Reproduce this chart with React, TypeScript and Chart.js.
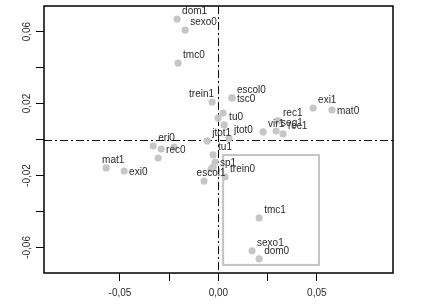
import React, { useEffect, useRef } from "react";
import { Chart, registerables } from "chart.js";

Chart.register(...registerables);

// ---- data ----
const LABELS = [
  "dom1", "sexo0", "tmc0", "trein1", "escol0", "tsc0", "", "", "tu0", "jtot1",
  "jtot0", "vir1", "rec1", "seg1", "rec1", "exi1", "mat0", "eri0", "rec0", "",
  "", "mat1", "exi0", "escol1", "tu1", "sp1", "", "", "trein0", "tmc1",
  "sexo1", "dom0",
];
const X_VALUES = [
  -0.021, -0.0169, -0.0205, -0.0032, 0.0069, 0.0069, 0.0024, -0.0002, 0.0029, -0.0057,
  0.0054, 0.0227, 0.0303, 0.0293, 0.0328, 0.0481, 0.0577, -0.0331, -0.0291, -0.0225,
  -0.0306, -0.057, -0.0479, -0.0073, -0.0027, -0.0017, -0.0027, -0.0037, 0.0034, 0.0207,
  0.0171, 0.0207,
];
const Y_VALUES = [
  0.0669, 0.0608, 0.0425, 0.0208, 0.0231, 0.0231, 0.0147, 0.0119, 0.0081, -0.0008,
  0.0008, 0.0042, 0.0103, 0.0047, 0.0031, 0.0175, 0.0164, -0.0036, -0.0053, -0.0042,
  -0.0103, -0.0158, -0.0175, -0.0231, -0.0086, -0.0125, -0.0153, -0.0164, -0.0208, -0.0436,
  -0.0619, -0.0664,
];
// where each label sits relative to its point
const LABEL_SIDES = [
  "tr", "tr", "tr", "tl", "tr", "r", "", "", "tr", "tr",
  "tr", "tr", "tr", "tr", "tr", "tr", "r", "tr", "r", "",
  "", "t", "r", "t", "tr", "r", "", "", "tr", "tr",
  "tr", "tr",
];

const X_TICKS = [-0.05, -0.025, 0, 0.025, 0.05];
const X_TICK_LABELS = ["-0,05", "", "0,00", "", "0,05"];
const Y_TICKS = [-0.06, -0.04, -0.02, 0, 0.02, 0.04, 0.06];
const Y_TICK_LABELS = ["-0,06", "", "-0,02", "", "0,02", "", "0,06"];
const X_RANGE = [-0.0886, 0.0887];
const Y_RANGE = [-0.0742, 0.0742];
const BOX_X = [0.0024, 0.0511];
const BOX_Y = [-0.0697, -0.0086];

const FONT_FAMILY = '"Liberation Sans", Arial, sans-serif';
const TEXT_COLOR = "#2a2a2a";
const POINT_COLOR = "#c6c6c6";

const SIDE_OFFSETS: Record<string, [number, number, CanvasTextAlign]> = {
  tr: [5, -8, "left"],
  r: [5, 1, "left"],
  tl: [2, -8, "right"],
  t: [7, -8, "center"],
};

const overlayPlugin = {
  id: "overlay",
  beforeDatasetsDraw(chart: any) {
    const { ctx, chartArea, scales } = chart;
    const xs = scales.x;
    const ys = scales.y;
    ctx.save();
    // gray highlight box
    const bx0 = xs.getPixelForValue(BOX_X[0]);
    const bx1 = xs.getPixelForValue(BOX_X[1]);
    const by0 = ys.getPixelForValue(BOX_Y[1]);
    const by1 = ys.getPixelForValue(BOX_Y[0]);
    ctx.strokeStyle = "#c4c4c4";
    ctx.lineWidth = 2;
    ctx.strokeRect(bx0, by0, bx1 - bx0, by1 - by0);
    // dash-dot reference lines at 0
    ctx.strokeStyle = "#000";
    ctx.lineWidth = 1;
    ctx.setLineDash([8, 3, 2, 3]);
    const x0 = Math.round(xs.getPixelForValue(0)) + 0.5;
    const y0 = Math.round(ys.getPixelForValue(0)) + 0.5;
    ctx.beginPath();
    ctx.moveTo(x0, chartArea.top);
    ctx.lineTo(x0, chartArea.bottom);
    ctx.moveTo(chartArea.left, y0);
    ctx.lineTo(chartArea.right, y0);
    ctx.stroke();
    ctx.restore();
  },
  afterDatasetsDraw(chart: any) {
    const { ctx } = chart;
    const meta = chart.getDatasetMeta(0);
    ctx.save();
    ctx.font = `10px ${FONT_FAMILY}`;
    ctx.fillStyle = TEXT_COLOR;
    ctx.textBaseline = "middle";
    meta.data.forEach((pt: any, i: number) => {
      const label = LABELS[i];
      if (!label) return;
      const off = SIDE_OFFSETS[LABEL_SIDES[i]] || SIDE_OFFSETS.tr;
      ctx.textAlign = off[2];
      ctx.fillText(label, pt.x + off[0], pt.y + off[1]);
    });
    ctx.restore();
  },
  afterDraw(chart: any) {
    const { ctx, chartArea, scales } = chart;
    ctx.save();
    ctx.strokeStyle = "#000";
    ctx.lineWidth = 1.5;
    ctx.strokeRect(chartArea.left, chartArea.top, chartArea.right - chartArea.left, chartArea.bottom - chartArea.top);
    // vertical y tick labels
    ctx.font = `10px ${FONT_FAMILY}`;
    ctx.fillStyle = TEXT_COLOR;
    ctx.textAlign = "center";
    ctx.textBaseline = "middle";
    Y_TICKS.forEach((v, i) => {
      const label = Y_TICK_LABELS[i];
      if (!label) return;
      const y = scales.y.getPixelForValue(v);
      ctx.save();
      ctx.translate(chartArea.left - 17, y);
      ctx.rotate(-Math.PI / 2);
      ctx.fillText(label, 0, 0);
      ctx.restore();
    });
    ctx.restore();
  },
};

export default function App() {
  const canvasRef = useRef<HTMLCanvasElement | null>(null);

  useEffect(() => {
    document.body.style.margin = "0";
    const canvas = canvasRef.current;
    if (!canvas) return;
    const points = X_VALUES.map((x, i) => ({ x, y: Y_VALUES[i] }));
    const chart = new Chart(canvas, {
      type: "scatter",
      data: {
        datasets: [
          {
            data: points,
            backgroundColor: POINT_COLOR,
            borderColor: POINT_COLOR,
            borderWidth: 0,
            pointRadius: 3.6,
            pointHoverRadius: 3.6,
          },
        ],
      },
      options: {
        animation: false,
        responsive: false,
        devicePixelRatio: 1,
        layout: { padding: { top: 6, right: 40, left: 0, bottom: 0 } },
        plugins: {
          legend: { display: false },
          tooltip: { enabled: false },
        },
        events: [],
        scales: {
          x: {
            type: "linear",
            min: X_RANGE[0],
            max: X_RANGE[1],
            afterBuildTicks: (scale: any) => {
              scale.ticks = X_TICKS.map((v) => ({ value: v }));
            },
            afterFit: (scale: any) => {
              scale.height = 33;
            },
            ticks: {
              autoSkip: false,
              maxRotation: 0,
              minRotation: 0,
              padding: 6,
              color: TEXT_COLOR,
              font: { size: 10, family: FONT_FAMILY },
              callback: (value: any) => {
                const idx = X_TICKS.findIndex((t) => Math.abs(t - value) < 1e-9);
                return idx >= 0 ? X_TICK_LABELS[idx] : "";
              },
            },
            grid: {
              display: true,
              drawOnChartArea: false,
              drawTicks: true,
              tickLength: 8,
              color: "#000",
              lineWidth: 1,
            },
            border: { display: false },
          },
          y: {
            type: "linear",
            min: Y_RANGE[0],
            max: Y_RANGE[1],
            afterBuildTicks: (scale: any) => {
              scale.ticks = Y_TICKS.map((v) => ({ value: v }));
            },
            afterFit: (scale: any) => {
              scale.width = 44;
            },
            ticks: {
              display: false,
              autoSkip: false,
            },
            grid: {
              display: true,
              drawOnChartArea: false,
              drawTicks: true,
              tickLength: 8,
              color: "#000",
              lineWidth: 1,
            },
            border: { display: false },
          },
        },
      },
      plugins: [overlayPlugin],
    } as any);
    return () => chart.destroy();
  }, []);

  return (
    <div style={{ width: 433, height: 306, background: "#fff" }}>
      <canvas ref={canvasRef} width={433} height={306} style={{ display: "block", width: 433, height: 306 }} />
    </div>
  );
}
